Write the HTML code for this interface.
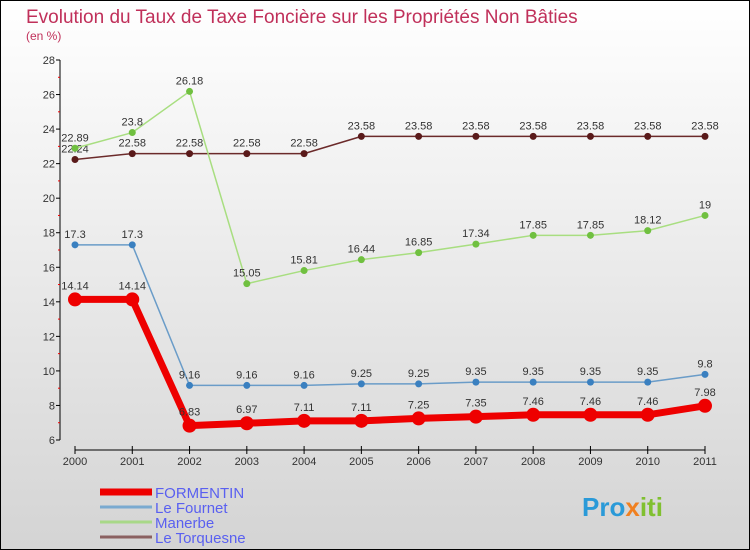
<!DOCTYPE html>
<html><head><meta charset="utf-8"><style>
body{margin:0;padding:0}
svg{display:block;font-family:"Liberation Sans",sans-serif}
</style></head><body>
<svg width="750" height="550" viewBox="0 0 750 550">
<defs><linearGradient id="bg" x1="0" y1="0" x2="0" y2="1"><stop offset="0" stop-color="#ffffff"/><stop offset="1" stop-color="#d4d4d4"/></linearGradient></defs>
<rect x="0.5" y="0.5" width="749" height="549" fill="url(#bg)" stroke="#000"/>
<text x="26" y="23" font-size="19" fill="#c0305a">Evolution du Taux de Taxe Foncière sur les Propriétés Non Bâties</text>
<text x="26" y="40" font-size="12" fill="#c0305a">(en %)</text>
<g id="axes"></g>
<g id="series"></g>
<g id="legend"></g>
<text x="582" y="516" font-size="26" font-weight="bold" fill="#2a9ad8">Pro<tspan fill="#f08020">x</tspan><tspan fill="#80c030">iti</tspan></text>
</svg>
<script>
const years=[2000,2001,2002,2003,2004,2005,2006,2007,2008,2009,2010,2011];
const yTicks=[6,8,10,12,14,16,18,20,22,24,26,28];
const formentin=[14.14,14.14,6.83,6.97,7.11,7.11,7.25,7.35,7.46,7.46,7.46,7.98];
const fournet=[17.3,17.3,9.16,9.16,9.16,9.25,9.25,9.35,9.35,9.35,9.35,9.8];
const manerbe=[22.89,23.8,26.18,15.05,15.81,16.44,16.85,17.34,17.85,17.85,18.12,19];
const torquesne=[22.24,22.58,22.58,22.58,22.58,23.58,23.58,23.58,23.58,23.58,23.58,23.58];
const names=["FORMENTIN","Le Fournet","Manerbe","Le Torquesne"];
const NS="http://www.w3.org/2000/svg";
const X=i=>75+i*(630/11);
const Y=v=>440-(v-6)*(380/22);
function mk(tag,at,parent){const e=document.createElementNS(NS,tag);for(const k in at)e.setAttribute(k,at[k]);parent.appendChild(e);return e;}
const ax=document.getElementById('axes');
let l=mk('line',{x1:60,y1:60,x2:60,y2:440,stroke:'#000'},ax);


l=mk('line',{x1:75,y1:450,x2:705,y2:450,stroke:'#000'},ax);


yTicks.forEach((t,i)=>{
 mk('line',{x1:56,y1:Y(t),x2:60,y2:Y(t),stroke:'#000'},ax);
 if(i<yTicks.length-1)mk('line',{x1:58,y1:Y(t+1),x2:60,y2:Y(t+1),stroke:'#e00'},ax);
 const tx=mk('text',{x:55,y:Y(t)+4,'font-size':11,'text-anchor':'end',fill:'#333'},ax);
 tx.textContent=t;
 
 
});
years.forEach((yr,i)=>{
 mk('line',{x1:X(i),y1:446,x2:X(i),y2:454,stroke:'#000'},ax);
 const tx=mk('text',{x:X(i),y:465,'font-size':11,'text-anchor':'middle',fill:'#333'},ax);
 tx.textContent=yr;
 
 
});
const sg=document.getElementById('series');
const defs=[[torquesne,'#6b2a2a','#5a1a1a',1.5,3.5,'torquesne'],[manerbe,'#a8de80','#70c040',1.5,3.5,'manerbe'],[fournet,'#6a9cc8','#3a80c0',1.5,3.5,'fournet'],[formentin,'#ee0000','#ee0000',7,7,'formentin']];
defs.forEach(([d,lc,pc,w,r,n])=>{
 const p=mk('polyline',{points:d.map((v,i)=>X(i)+','+Y(v)).join(' '),fill:'none',stroke:lc,'stroke-width':w,'stroke-linejoin':'round'},sg);
 
 
 d.forEach((v,i)=>{
  const c=mk('circle',{cx:X(i),cy:Y(v),r:r,fill:pc},sg);
  
  
  const t=mk('text',{x:X(i),y:Y(v)-(n==='formentin'?10:7),'font-size':11,'text-anchor':'middle',fill:'#333'},sg);
  t.textContent=v;
  
  
 });
});
const lg=document.getElementById('legend');
const lcol=['#ee0000','#7aaad0','#a8d888','#8a6060'],lw=[7,3,3,3];
names.forEach((nm,i)=>{
 const y=492+i*15;
 mk('line',{x1:100,y1:y,x2:152,y2:y,stroke:lcol[i],'stroke-width':lw[i]},lg);
 const t=mk('text',{x:155,y:y+6,'font-size':15,fill:'#5a60f0'},lg);
 t.textContent=nm;
 
 
});
</script>
</body></html>
